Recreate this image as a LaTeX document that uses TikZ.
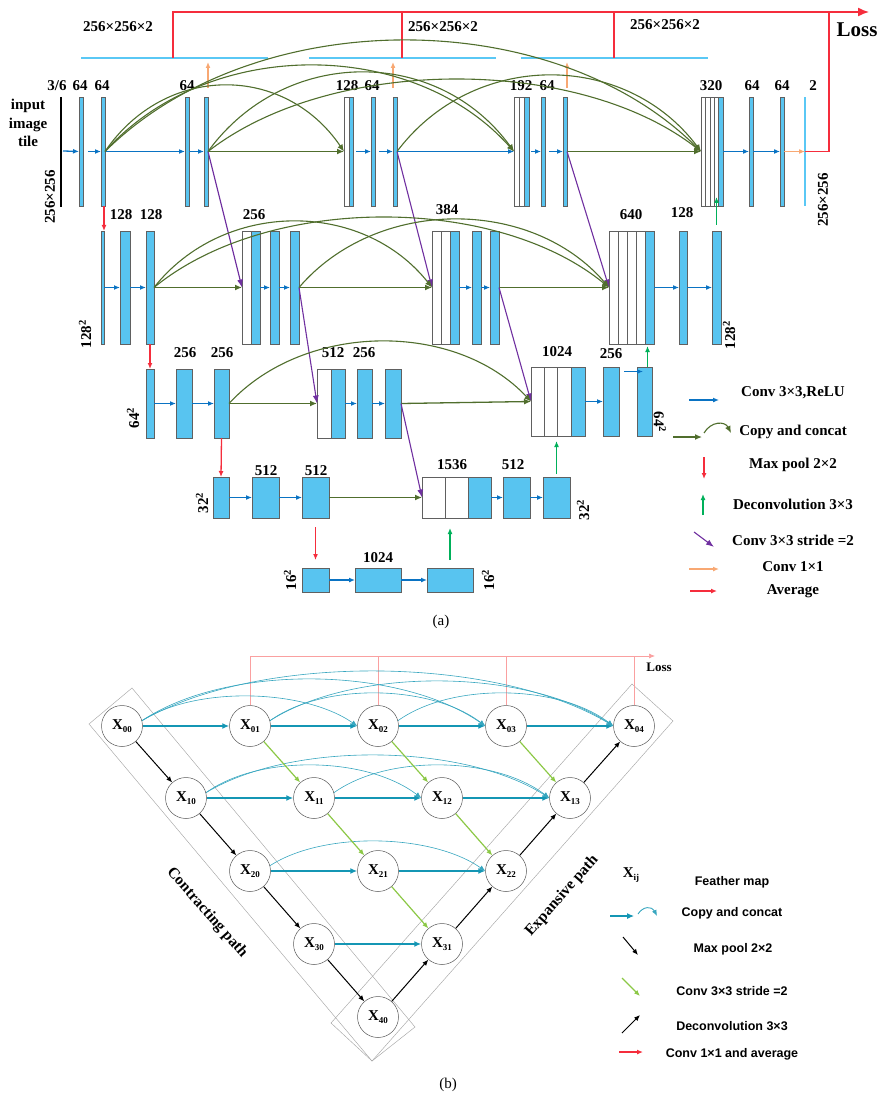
\documentclass[tikz,border=0pt]{standalone}
\usepackage{fontspec}
\setmainfont{Liberation Serif}
\newfontfamily\arialf{Liberation Sans}
\usetikzlibrary{arrows.meta,calc}
\newcommand\myfs[1]{\fontsize{#1}{#1}\selectfont}
\newcommand\mysub[1]{\raisebox{-0.35ex}{\myfs{9}#1}}
\definecolor{lay}{RGB}{88,196,240}
\definecolor{topline}{RGB}{90,200,245}
\definecolor{cblue}{RGB}{10,115,195}
\definecolor{dgreen}{RGB}{80,110,45}
\definecolor{cred}{RGB}{245,45,60}
\definecolor{corange}{RGB}{248,168,115}
\definecolor{dcgreen}{RGB}{0,176,90}
\definecolor{cpurple}{RGB}{112,48,160}
\definecolor{cteal}{RGB}{20,150,180}
\definecolor{lgreen}{RGB}{140,200,70}
\definecolor{cpink}{RGB}{250,160,160}
\tikzset{
 layer/.style={rectangle, draw=gray!75!black, fill=lay, line width=0.5pt, inner sep=0pt, outer sep=0pt},
 wlayer/.style={layer, fill=white},
 thinl/.style={layer, draw=none, fill=topline},
 conv/.style={draw=cblue, line width=1.3pt, -{Latex[length=6pt,width=5pt]}},
 copyl/.style={draw=dgreen, line width=1.3pt, -{Latex[length=7pt,width=6pt]}},
 carc/.style={draw=dgreen, line width=1.1pt, -{Latex[length=7pt,width=6pt]}},
 pool/.style={draw=cred, line width=1.3pt, -{Latex[length=6pt,width=5pt]}},
 deconv/.style={draw=dcgreen, line width=1.3pt, -{Latex[length=6pt,width=5pt]}},
 stride/.style={draw=cpurple, line width=1.1pt, -{Latex[length=8pt,width=6pt]}},
 onex/.style={draw=corange, line width=1.4pt, -{Latex[length=6pt,width=5pt]}},
 avg/.style={draw=cred, line width=1.4pt},
 topln/.style={draw=topline, line width=2pt},
 lab/.style={font=\myfs{15}\bfseries, inner sep=0pt},
 leg/.style={font=\myfs{15}\bfseries, inner sep=0pt},
 xn/.style={circle, draw=gray!70!black, line width=0.5pt, fill=white, minimum size=41pt, inner sep=0pt, font=\myfs{15}\bfseries},
 tstr/.style={draw=cteal, line width=1.4pt, -{Latex[length=7pt,width=6pt]}},
 tarc/.style={draw=cteal!85, line width=0.6pt, -{Latex[length=6pt,width=5pt]}},
 blk/.style={draw=black, line width=1pt, -{Latex[length=6pt,width=5pt]}},
 lgr/.style={draw=lgreen, line width=1.2pt, -{Latex[length=6pt,width=5pt]}},
 pinkl/.style={draw=cpink, line width=0.7pt},
 rectl/.style={draw=gray!70, line width=0.45pt},
 legb/.style={font=\arialf\bfseries\myfs{12.5}, inner sep=0pt},
}
\newcommand\mylay[6][layer]{\node[#1, minimum width={(#4-#3)*1pt}, minimum height={(#6-#5)*1pt}] (#2) at ({(#3+#4)/2},{(#5+#6)/2}) {};}
\newcommand\myarc[4][carc]{\draw[#1] (#2) .. controls ($(#2)!0.25!(#3)+(0,{-(#4)/0.75})$) and ($(#2)!0.75!(#3)+(0,{-(#4)/0.75})$) .. (#3);}
\begin{document}
\begin{tikzpicture}[x=1pt,y=-1pt]
\useasboundingbox (0,0) rectangle (881,1099);
% ================= (a) =================
\draw[topln] (81,58) -- (268,58);
\draw[topln] (309,58) -- (496,58);
\draw[topln] (521,58) -- (708,58);
\coordinate (lossR) at (829,12);
\coordinate (lossE) at (869,12);
\draw[avg] (173,58) -- (173,12) -- (lossR);
\draw[avg] (402,12) -- (402,58);
\draw[avg] (614,12) -- (614,58);
\draw[avg,-{Latex[length=11pt,width=9pt]}] (lossR) -- (lossE);
\node[font=\myfs{21}\bfseries, inner sep=0pt] (loss) at (857,30) {Loss};
\node[lab] (s1) at (118,27) {256×256×2};
\node[lab] (s2) at (443,27) {256×256×2};
\node[lab] (s3) at (665,25) {256×256×2};
\node[lab, align=center, font=\fontsize{15}{18.5}\selectfont\bfseries] (inp) at (28,123) {input\\image\\tile};
\draw[line width=1.5pt] (61,97) -- (61,207);
\coordinate (in0) at (63,151);
\node[lab, rotate=90] (r1) at (50,197) {256×256};
\node[lab, rotate=90] (r2) at (823,200) {256×256};
% row 1
\mylay{a1}{79}{83}{97}{206}
\mylay{a2}{101}{105}{97}{206}
\mylay{a3}{185}{189}{97}{206}
\mylay{a4}{204}{208}{97}{206}
\mylay[wlayer]{a5w}{344}{349}{97}{206}
\mylay{a5}{349}{353}{97}{206}
\mylay{a6}{371}{375}{97}{206}
\mylay{a7}{393}{397}{97}{206}
\mylay[wlayer]{a8w1}{514}{519}{97}{206}
\mylay[wlayer]{a8w2}{519}{524}{97}{206}
\mylay{a8}{524}{529}{97}{206}
\mylay{a9}{541}{545}{97}{206}
\mylay{a10}{563}{567}{97}{206}
\mylay[wlayer]{a11w1}{701}{705}{97}{206}
\mylay[wlayer]{a11w2}{705}{710}{97}{206}
\mylay[wlayer]{a11w3}{710}{714}{97}{206}
\mylay[wlayer]{a11w4}{714}{718}{97}{206}
\mylay{a11}{718}{723}{97}{206}
\mylay{a12}{749}{753}{97}{206}
\mylay{a13}{780}{784}{97}{206}
\mylay[thinl]{a14}{804}{806}{97}{206}
% row 2
\mylay{b1}{101}{104}{231}{344}
\mylay{b2}{120}{130}{231}{344}
\mylay{b3}{146}{154}{231}{344}
\mylay[wlayer]{b4w}{242}{251}{231}{344}
\mylay{b4}{251}{260}{231}{344}
\mylay{b5}{270}{279}{231}{344}
\mylay{b6}{290}{299}{231}{344}
\mylay[wlayer]{b7w1}{432}{441}{231}{344}
\mylay[wlayer]{b7w2}{441}{450}{231}{344}
\mylay{b7}{450}{459}{231}{344}
\mylay{b8}{472}{481}{231}{344}
\mylay{b9}{490}{499}{231}{344}
\mylay[wlayer]{b10w1}{609}{618}{231}{344}
\mylay[wlayer]{b10w2}{618}{627}{231}{344}
\mylay[wlayer]{b10w3}{627}{636}{231}{344}
\mylay[wlayer]{b10w4}{636}{645}{231}{344}
\mylay{b10}{645}{654}{231}{344}
\mylay{b11}{679}{687}{231}{344}
\mylay{b12}{712}{721}{231}{344}
% row 3
\mylay{c1}{146}{154}{369}{438}
\mylay{c2}{176}{192}{369}{438}
\mylay{c3}{214}{229}{369}{438}
\mylay[wlayer]{c4w}{317}{331}{369}{438}
\mylay{c4}{331}{345}{369}{438}
\mylay{c5}{357}{372}{369}{438}
\mylay{c6}{385}{401}{369}{438}
\mylay[wlayer]{c7w1}{531}{544}{367}{436}
\mylay[wlayer]{c7w2}{544}{557}{367}{436}
\mylay[wlayer]{c7w3}{557}{571}{367}{436}
\mylay{c7}{571}{585}{367}{436}
\mylay{c8}{603}{619}{367}{436}
\mylay{c9}{637}{652}{367}{436}
% row 4
\mylay{d1}{213}{229}{477}{518}
\mylay{d2}{252}{279}{477}{518}
\mylay{d3}{302}{329}{477}{518}
\mylay[wlayer]{d4w1}{422}{445}{477}{518}
\mylay[wlayer]{d4w2}{445}{468}{477}{518}
\mylay{d4}{468}{491}{477}{518}
\mylay{d5}{503}{530}{477}{518}
\mylay{d6}{543}{570}{477}{518}
% row 5
\mylay{e1}{302}{329}{568}{592}
\mylay{e2}{355}{401}{568}{592}
\mylay{e3}{427}{473}{568}{592}
% labels
\node[lab] (l1) at (57,86) {3/6};
\node[lab] (l2) at (80,86) {64};
\node[lab] (l3) at (102,86) {64};
\node[lab] (l4) at (187,86) {64};
\node[lab] (l5) at (347,86) {128};
\node[lab] (l6) at (372,86) {64};
\node[lab] (l7) at (521,86) {192};
\node[lab] (l8) at (547,86) {64};
\node[lab] (l9) at (711,86) {320};
\node[lab] (l10) at (752,86) {64};
\node[lab] (l11) at (782,86) {64};
\node[lab] (l12) at (813,86) {2};
\node[lab] (m1) at (121,215) {128};
\node[lab] (m2) at (151,215) {128};
\node[lab] (m3) at (254,215) {256};
\node[lab] (m4) at (447,210) {384};
\node[lab] (m5) at (631,215) {640};
\node[lab] (m6) at (682,213) {128};
\node[lab] (n1) at (185,353) {256};
\node[lab] (n2) at (222,353) {256};
\node[lab] (n3) at (333,353) {512};
\node[lab] (n4) at (364,353) {256};
\node[lab] (n5) at (557,352) {1024};
\node[lab] (n6) at (611,354) {256};
\node[lab] (o1) at (266,471) {512};
\node[lab] (o2) at (316,471) {512};
\node[lab] (o3) at (452,465) {1536};
\node[lab] (o4) at (513,465) {512};
\node[lab] (p1) at (378,558) {1024};
\node[lab, rotate=90] (q1) at (85,334) {128\textsuperscript{2}};
\node[lab, rotate=90] (q2) at (729,335) {128\textsuperscript{2}};
\node[lab, rotate=90] (q3) at (133,418) {64\textsuperscript{2}};
\node[lab, rotate=-90] (q4) at (660,422) {64\textsuperscript{2}};
\node[lab, rotate=90] (q5) at (202,503) {32\textsuperscript{2}};
\node[lab, rotate=90] (q6) at (583,510) {32\textsuperscript{2}};
\node[lab, rotate=90] (q7) at (290,580) {16\textsuperscript{2}};
\node[lab, rotate=90] (q8) at (488,580) {16\textsuperscript{2}};
% row 1 connectors
\draw[conv] (in0) -- (a1);
\draw[conv, shorten <=5pt] (a1) -- (a2);
\draw[conv] (a2) -- (a3);
\draw[conv] (a3) -- (a4);
\draw[copyl] (a4) -- (a5w);
\draw[conv, shorten <=3pt] (a5) -- (a6);
\draw[conv, shorten <=4pt] (a6) -- (a7);
\draw[conv] (a7) -- (a8w1);
\draw[conv, shorten <=2pt] (a8) -- (a9);
\draw[conv, shorten <=4pt] (a9) -- (a10);
\draw[copyl] (a10) -- (a11w1);
\draw[conv] (a11) -- (a12);
\draw[conv] (a12) -- (a13);
\draw[onex] (a13) -- (a14.center);
\draw[avg] (a14.center) -- (a14 -| lossR) -- (lossR);
\draw[onex] ($(a4.north east)+(0,-9)$) -- ++(0,-26);
\draw[onex] ($(a7.north west)+(0,-9)$) -- ++(0,-26);
\draw[onex] ($(a10.north east)+(0,-9)$) -- ++(0,-26);
% row 2 connectors
\draw[conv] (b1) -- (b2);
\draw[conv] (b2) -- (b3);
\draw[copyl] (b3) -- (b4w);
\draw[conv] (b4) -- (b5);
\draw[conv] (b5) -- (b6);
\draw[copyl] (b6) -- (b7w1);
\draw[conv] (b7) -- (b8);
\draw[conv] (b8) -- (b9);
\draw[copyl] (b9) -- (b10w1);
\draw[conv] (b10) -- (b11);
\draw[conv] (b11) -- (b12);
% row 3
\draw[conv] (c1) -- (c2);
\draw[conv] (c2) -- (c3);
\draw[copyl] (c3) -- (c4w);
\draw[conv] (c4) -- (c5);
\draw[conv] (c5) -- (c6);
\draw[copyl] (c6.east) -- (c7w1.west);
\draw[conv] (c7) -- (c8);
\draw[conv] ($(c8.east)+(5,-30)$) -- ($(c9.west)+(6,-30)$);
% row 4
\draw[conv] (d1) -- (d2);
\draw[conv] (d2) -- (d3);
\draw[copyl] (d3) -- (d4w1);
\draw[conv] (d4) -- (d5);
\draw[conv] (d5) -- (d6);
% row 5
\draw[conv] (e1) -- (e2);
\draw[conv] (e2) -- (e3);
% pooling
\draw[pool] (b1.north east |- a2.south) -- (b1.north east);
\draw[pool] (b3.south) -- (c1.north);
\draw[pool] (c3.south) -- (d1.north);
\draw[pool] ($(d3.south)+(0,9)$) -- ($(e1.north)+(0,-8)$);
% deconvolution
\draw[deconv] ($(e3.north)+(0,-8)$) -- ($(e3.north)+(0,-40)$);
\draw[deconv] ($(d6.north)+(0,-3)$) -- ($(d6.north)+(0,-36)$);
\draw[deconv] ($(c9.north)+(3,0)$) -- ($(c9.north)+(3,-21)$);
\draw[deconv] ($(b12.north)+(0,-6)$) -- ($(b12.north)+(0,-34)$);
% stride conv
\draw[stride] (a4.east) -- (b4w.west);
\draw[stride] (a7.east) -- (b7w1.west);
\draw[stride] (a10.east) -- (b10w1.west);
\draw[stride] (b6.east) -- (c4w.west);
\draw[stride] (b9.east) -- (c7w1.west);
\draw[stride] (c6.east) -- (d4w1.west);
% copy arcs
\myarc{a2.east}{a5w.west}{66}
\myarc{a2.east}{a8w1.west}{86}
\myarc{a2.east}{a11w1.west}{111}
\myarc{a4.east}{a8w1.west}{79}
\myarc{a4.east}{a11w1.west}{72}
\myarc{a7.east}{a11w1.west}{76}
\myarc{b3.east}{b7w1.west}{66}
\myarc{b3.east}{b10w1.west}{70}
\myarc{b6.east}{b10w1.west}{68}
\myarc{c3.east}{c7w1.west}{61}
% legend (a)
\draw[conv] (689,400) -- (719,400);
\node[leg] (la1) at (793,393) {Conv 3×3,ReLU};
\draw[copyl] (673,437) -- (702,437);
\draw[carc] (704,433) .. controls (711,421) and (725,421) .. (731,433);
\node[leg] (la2) at (793,432) {Copy and concat};
\draw[pool] (704,457) -- (704,479);
\node[leg] (la3) at (793,465) {Max pool 2×2};
\draw[deconv] (703,515) -- (703,494);
\node[leg] (la4) at (793,504) {Deconvolution 3×3};
\draw[stride] (694,532) -- (714,547);
\node[leg] (la5) at (793,540) {Conv 3×3 stride =2};
\draw[onex] (689,569) -- (719,569);
\node[leg] (la6) at (793,567) {Conv 1×1};
\draw[avg,-{Latex[length=6pt,width=5pt]}] (690,591) -- (717,591);
\node[leg] (la7) at (793,591) {Average};
\node[font=\myfs{15}, inner sep=0pt] (capa) at (441,622) {(a)};
% ================= (b) =================
\draw[rectl] (132,688) -- (89,724) -- (372,1061) -- (415,1027) -- cycle;
\draw[rectl] (331,1023) -- (372,1061) -- (673,721) -- (632,684) -- cycle;
\node[xn] (X00) at (122,726) {X\mysub{00}};
\node[xn] (X01) at (250,726) {X\mysub{01}};
\node[xn] (X02) at (378,726) {X\mysub{02}};
\node[xn] (X03) at (506,726) {X\mysub{03}};
\node[xn] (X04) at (634,726) {X\mysub{04}};
\node[xn] (X10) at (186,798) {X\mysub{10}};
\node[xn] (X11) at (314,798) {X\mysub{11}};
\node[xn] (X12) at (442,798) {X\mysub{12}};
\node[xn] (X13) at (570,798) {X\mysub{13}};
\node[xn] (X20) at (250,871) {X\mysub{20}};
\node[xn] (X21) at (378,871) {X\mysub{21}};
\node[xn] (X22) at (506,871) {X\mysub{22}};
\node[xn] (X30) at (314,944) {X\mysub{30}};
\node[xn] (X31) at (442,944) {X\mysub{31}};
\node[xn] (X40) at (378,1017) {X\mysub{40}};
\coordinate (lossb) at (655,656);
\draw[pinkl,-{Latex[length=6pt,width=5pt]}] (X01.north) |- (lossb);
\draw[pinkl] (X02.north) -- (X02.north |- lossb);
\draw[pinkl] (X03.north) -- (X03.north |- lossb);
\draw[pinkl] (X04.north) -- (X04.north |- lossb);
\node[font=\myfs{13}\bfseries, inner sep=0pt] (lossbt) at (659,667) {Loss};
\draw[tstr] (X00) -- (X01);
\draw[tstr] (X01) -- (X02);
\draw[tstr] (X02) -- (X03);
\draw[tstr] (X03) -- (X04);
\draw[tstr] (X10) -- (X11);
\draw[tstr] (X11) -- (X12);
\draw[tstr] (X12) -- (X13);
\draw[tstr] (X20) -- (X21);
\draw[tstr] (X21) -- (X22);
\draw[tstr] (X30) -- (X31);
\myarc[tarc]{X00.15}{X02.west}{27}
\myarc[tarc]{X00.15}{X03.west}{44}
\myarc[tarc]{X00.15}{X04.west}{52}
\myarc[tarc]{X01.15}{X03.west}{30}
\myarc[tarc]{X01.15}{X04.west}{42}
\myarc[tarc]{X02.15}{X04.west}{30}
\myarc[tarc]{X10.15}{X12.west}{30}
\myarc[tarc]{X10.15}{X13.west}{40}
\myarc[tarc]{X11.15}{X13.west}{30}
\myarc[tarc]{X20.15}{X22.west}{27}
\draw[lgr] (X01) -- (X11);
\draw[lgr] (X02) -- (X12);
\draw[lgr] (X03) -- (X13);
\draw[lgr] (X11) -- (X21);
\draw[lgr] (X12) -- (X22);
\draw[lgr] (X21) -- (X31);
\draw[blk] (X00) -- (X10);
\draw[blk] (X10) -- (X20);
\draw[blk] (X20) -- (X30);
\draw[blk] (X30) -- (X40);
\draw[blk] (X40) -- (X31);
\draw[blk] (X31) -- (X22);
\draw[blk] (X22) -- (X13);
\draw[blk] (X13) -- (X04);
\node[font=\myfs{15.5}\bfseries, rotate=-48.7, inner sep=0pt] (cpath) at (207,913) {Contracting path};
\node[font=\myfs{15.5}\bfseries, rotate=48.7, inner sep=0pt] (epath) at (562,896) {Expansive path};
\node[font=\myfs{15}\bfseries, inner sep=0pt] (lxij) at (631,875) {X\mysub{ij}};
\node[legb] (lb1) at (732,882) {Feather map};
\draw[tstr, line width=1.1pt] (610,916) -- (634,916);
\draw[tarc, line width=0.9pt] (638,914) .. controls (643,906) and (652,906) .. (657,916);
\node[legb] (lb2) at (732,913) {Copy and concat};
\draw[blk] (623,937) -- (638,955);
\node[legb] (lb3) at (733,949) {Max pool 2×2};
\draw[lgr] (622,978) -- (640,996);
\node[legb] (lb4) at (732,991) {Conv 3×3 stride =2};
\draw[blk] (622,1033) -- (640,1015);
\node[legb] (lb5) at (732,1026) {Deconvolution 3×3};
\draw[avg,-{Latex[length=6pt,width=5pt]}] (619,1052) -- (643,1052);
\node[legb] (lb6) at (732,1054) {Conv 1×1 and average};
\node[font=\myfs{15}, inner sep=0pt] (capb) at (448,1085) {(b)};
\end{tikzpicture}
\end{document}
